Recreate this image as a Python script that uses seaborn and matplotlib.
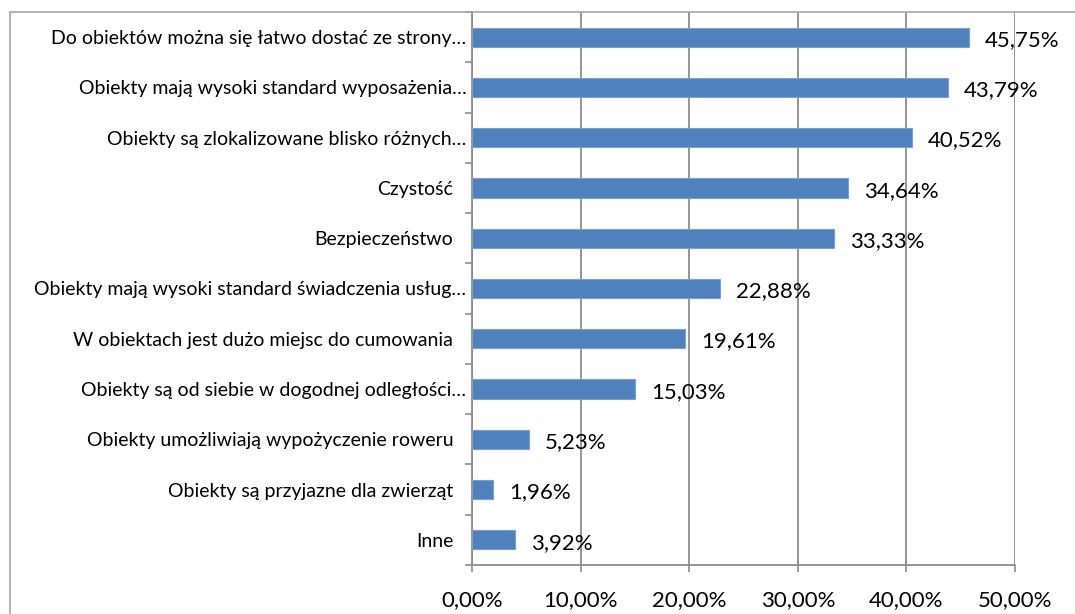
import matplotlib
matplotlib.use("Agg")
import matplotlib.pyplot as plt
import seaborn as sns
import pandas as pd
import numpy as np
from matplotlib.ticker import FuncFormatter, FixedLocator
from matplotlib.lines import Line2D
from matplotlib.transforms import ScaledTranslation

categories = [
    "Do obiektów można się łatwo dostać ze strony…",
    "Obiekty mają wysoki standard wyposażenia…",
    "Obiekty są zlokalizowane blisko różnych…",
    "Czystość",
    "Bezpieczeństwo",
    "Obiekty mają wysoki standard świadczenia usług…",
    "W obiektach jest dużo miejsc do cumowania",
    "Obiekty są od siebie w dogodnej odległości…",
    "Obiekty umożliwiają wypożyczenie roweru",
    "Obiekty są przyjazne dla zwierząt",
    "Inne",
]
values = [45.75, 43.79, 40.52, 34.64, 33.33, 22.88, 19.61, 15.03, 5.23, 1.96, 3.92]
x_ticks = [0, 10, 20, 30, 40, 50]

sns.set_theme(style="white")
plt.rcParams['font.family'] = ['Lato', 'DejaVu Sans']

df = pd.DataFrame({"cat": categories, "val": values})

fig = plt.figure(figsize=(10.75, 6.14), dpi=100)
ax = fig.add_axes([472/1075, 1-565/614, (1015-472)/1075, (565-12)/614])

sns.barplot(data=df, x="val", y="cat", orient="h", color="#4F81BD",
            saturation=1, width=0.38, edgecolor="#7A9FD0", linewidth=0.8, ax=ax, zorder=3)

ax.set_xlim(0, 50)
ax.set_ylim(len(categories) - 0.5, -0.5)
ax.xaxis.set_major_locator(FixedLocator(x_ticks))
ax.xaxis.set_major_formatter(FuncFormatter(lambda v, p: f"{v:.2f}%".replace(".", ",")))
ax.grid(axis="x", color="#8C8C8C", linewidth=1.3, zorder=0)
ax.set_axisbelow(True)
ax.set_xlabel("")
ax.set_ylabel("")

for s in ["top", "right", "bottom"]:
    ax.spines[s].set_visible(False)
ax.spines["left"].set_color("#8C8C8C")
ax.spines["left"].set_linewidth(1.3)

# bottom axis line
ax.axhline(len(categories) - 0.5, color="#8C8C8C", linewidth=1.3, clip_on=False, zorder=4)

# y ticks at category boundaries
ax.yaxis.set_minor_locator(FixedLocator(np.arange(-0.5, len(categories), 1.0)))
ax.tick_params(axis="y", which="minor", left=True, length=5, width=1.2, color="#8C8C8C")
ax.tick_params(axis="y", which="major", left=False, pad=7.5, labelsize=14, labelcolor="black")
ax.tick_params(axis="x", which="major", bottom=True, length=5, width=1.2, color="#8C8C8C",
               labelsize=16, pad=13, labelcolor="black")

# truncated (ellipsis) labels sit closer to the axis, as in the original
for lab in ax.get_yticklabels():
    if lab.get_text().endswith("…"):
        lab.set_transform(lab.get_transform() + ScaledTranslation(13/100, 0, fig.dpi_scale_trans))

for i, v in enumerate(values):
    ax.annotate(f"{v:.2f}%".replace(".", ","), xy=(v, i), xytext=(11.5, -2),
                textcoords="offset points", va="center", ha="left",
                fontsize=16, color="black", zorder=5)

# outer chart frame (left and top edges visible)
fig.add_artist(Line2D([10/1075, 10/1075], [0, 1-12/614], transform=fig.transFigure,
                      color="#A6A6A6", linewidth=1.2))
fig.add_artist(Line2D([10/1075, 1], [1-12/614, 1-12/614], transform=fig.transFigure,
                      color="#A6A6A6", linewidth=1.2))

fig.savefig("out.png", dpi=100, facecolor="white")
